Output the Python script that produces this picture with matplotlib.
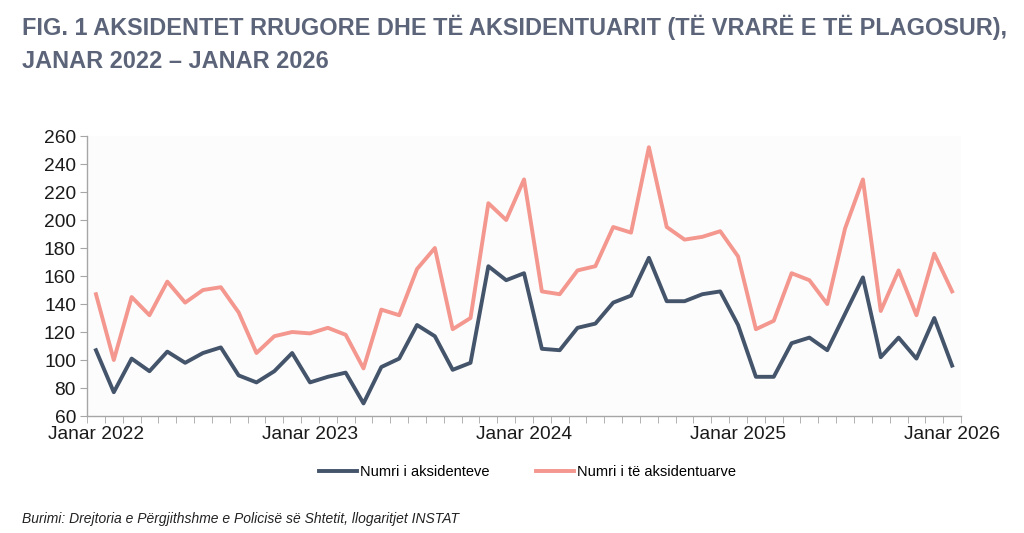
import numpy as np
import matplotlib.pyplot as plt

# monthly data, Janar 2022 - Janar 2026
accidents = [107, 77, 101, 92, 106, 98, 105, 109, 89, 84, 92, 105,
             84, 88, 91, 69, 95, 101, 125, 117, 93, 98, 167, 157,
             162, 108, 107, 123, 126, 141, 146, 173, 142, 142, 147, 149,
             125, 88, 88, 112, 116, 107, 133, 159, 102, 116, 101, 130,
             96]
injured = [147, 100, 145, 132, 156, 141, 150, 152, 134, 105, 117, 120,
           119, 123, 118, 94, 136, 132, 165, 180, 122, 130, 212, 200,
           229, 149, 147, 164, 167, 195, 191, 252, 195, 186, 188, 192,
           174, 122, 128, 162, 157, 140, 194, 229, 135, 164, 132, 176,
           149]
tick_idx = [0, 12, 24, 36, 48]
tick_labels = ["Janar 2022", "Janar 2023", "Janar 2024", "Janar 2025", "Janar 2026"]

plt.rcParams["font.family"] = ["Liberation Sans", "DejaVu Sans"]

DARK = "#44546A"
PINK = "#F4978E"
TITLE_C = "#5B6479"

fig = plt.figure(figsize=(10.24, 5.33), dpi=100)
ax = fig.add_axes([0.085, 0.2195, 0.8535, 0.5253])
ax.set_facecolor("#FCFCFD")

x = np.arange(len(accidents))
ax.plot(x, accidents, color=DARK, lw=2.8, label="Numri i aksidenteve")
ax.plot(x, injured, color=PINK, lw=2.8, label="Numri i të aksidentuarve")

ax.set_xlim(-0.5, len(x) - 0.5)
ax.set_ylim(60, 260)
ax.set_yticks(np.arange(60, 261, 20))
ax.set_xticks(tick_idx)
ax.set_xticklabels(tick_labels)
ax.set_xticks(np.arange(-0.5, len(x), 1), minor=True)
ax.tick_params(axis="x", which="major", length=0, pad=7, labelsize=13.8, colors="#1A1A1A")
ax.tick_params(axis="x", which="minor", length=5, color="#A6A6A6", direction="out")
ax.tick_params(axis="y", length=5, color="#A6A6A6", pad=3, labelsize=13.8, labelcolor="#1A1A1A")
for s in ["top", "right"]:
    ax.spines[s].set_visible(False)
for s in ["left", "bottom"]:
    ax.spines[s].set_color("#A6A6A6")
    ax.spines[s].set_linewidth(1)

fig.legend(loc="center", bbox_to_anchor=(0.515, 0.114), ncol=2, frameon=False,
           handlelength=2.6, columnspacing=3.2, handletextpad=0.2,
           prop={"size": 10.5})

fig.text(0.0215, 0.935, "FIG. 1 AKSIDENTET RRUGORE DHE TË AKSIDENTUARIT (TË VRARË E TË PLAGOSUR),",
         weight="bold", size=16.9, color=TITLE_C, va="baseline")
fig.text(0.0215, 0.873, "JANAR 2022 – JANAR 2026",
         weight="bold", size=16.9, color=TITLE_C, va="baseline")
fig.text(0.0215, 0.019, "Burimi: Drejtoria e Përgjithshme e Policisë së Shtetit, llogaritjet INSTAT",
         style="italic", size=10, color="#222222")

fig.savefig("out.png", dpi=100)
